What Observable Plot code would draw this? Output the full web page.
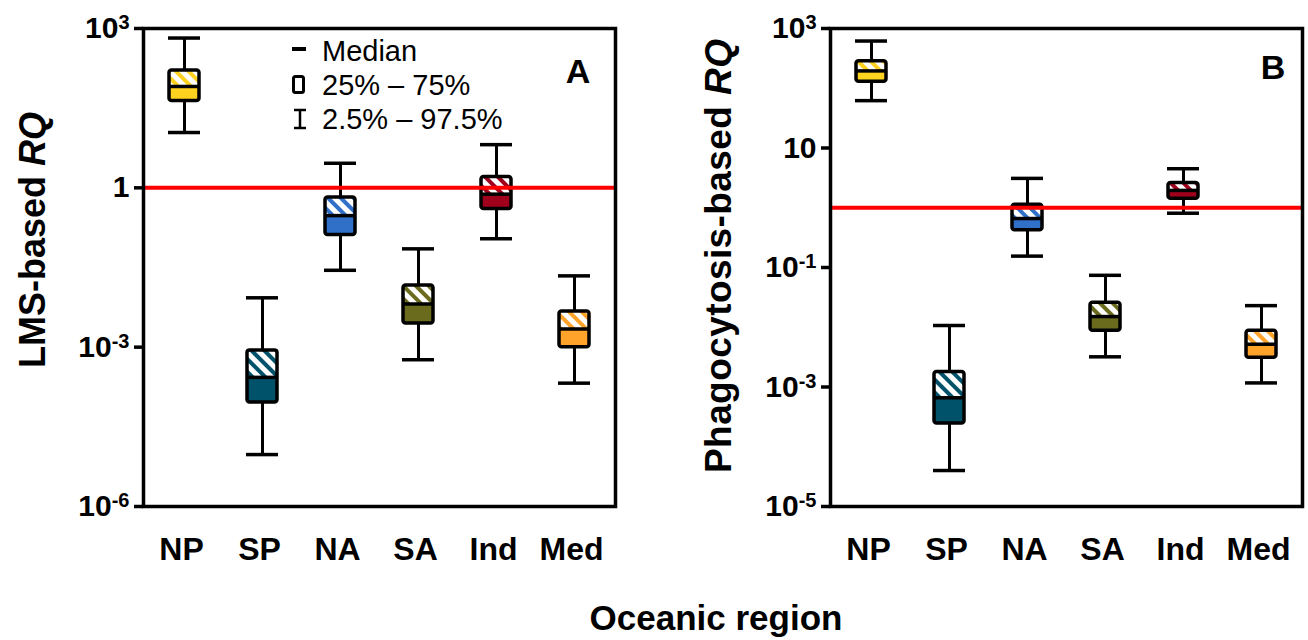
<!DOCTYPE html>
<html><head><meta charset="utf-8">
<script src="https://cdn.jsdelivr.net/npm/d3@7"></script>
<script src="https://cdn.jsdelivr.net/npm/@observablehq/plot@0.6"></script>
<style>
body{margin:0;background:#fff;}
#wrap{position:relative;width:1308px;height:640px;overflow:hidden;font-family:"Liberation Sans",Arial,sans-serif;background:#fff;}
.panel{position:absolute;top:0;}
#ann{position:absolute;left:0;top:0;}
</style></head><body><div id="wrap"></div>
<script>
// ---------- data ----------
const regions = ["NP", "SP", "NA", "SA", "Ind", "Med"];
const regionColors = ["#FFD21F", "#00516A", "#3070C8", "#6B6B1E", "#A0001C", "#FFA32A"];

// Panel A: LMS-based RQ (2.5%, 25%, median, 75%, 97.5%)
const lmsLow  = [11,   9.5e-6, 0.028, 5.8e-4, 0.11, 2.1e-4];
const lmsQ1   = [43,   9.1e-5, 0.13,  0.0028, 0.40, 0.0010];
const lmsMed  = [81,   2.7e-4, 0.30,  0.0065, 0.76, 0.0022];
const lmsQ3   = [162,  8.7e-4, 0.66,  0.0145, 1.6,  0.0047];
const lmsHigh = [661,  0.0085, 2.9,   0.071,  6.5,  0.022];
const lmsTicks = [1e-6, 1e-3, 1, 1e3];

// Panel B: Phagocytosis-based RQ
const phLow  = [62,  4.0e-5,  0.155, 0.0032, 0.81, 0.00117];
const phQ1   = [129, 2.45e-4, 0.42,  0.0087, 1.41, 0.0031];
const phMed  = [195, 6.6e-4,  0.66,  0.0151, 1.95, 0.0052];
const phQ3   = [282, 0.00178, 1.12,  0.0257, 2.6,  0.0087];
const phHigh = [617, 0.0107,  3.1,   0.074,  4.5,  0.023];
const phTicks = [1e-5, 1e-3, 1e-1, 10, 1e3];

const threshold = [1];

// ---------- helpers ----------
function table(low, q1, med, q3, high) {
  return regions.map((r, i) => ({region: r, color: regionColors[i], low: low[i], q1: q1[i], med: med[i], q3: q3[i], high: high[i]}));
}
function fmtTick(v) {
  const e = Math.round(Math.log10(v));
  if (e === 0) return "1";
  if (e === 1) return "10";
  return "10^" + e;
}

const wrap = d3.select("#wrap");

// hatch patterns
const defsSvg = wrap.append("svg").attr("width", 0).attr("height", 0).style("position", "absolute");
const defs = defsSvg.append("defs");
regions.forEach((r, i) => {
  const p = defs.append("pattern").attr("id", "hatch-" + r)
    .attr("patternUnits", "userSpaceOnUse").attr("width", 9).attr("height", 9)
    .attr("patternTransform", "rotate(-45)");
  p.append("rect").attr("width", 9).attr("height", 9).attr("fill", "white");
  p.append("rect").attr("width", 4).attr("height", 9).attr("fill", regionColors[i]);
});

function panel(data, domain, ticks, opts) {
  const W = 654, H = 580;
  const boxInset = 24, capInset = 23;
  const svg = Plot.plot({
    width: W, height: H,
    marginLeft: opts.ml, marginRight: opts.mr, marginTop: 28, marginBottom: H - opts.bottom,
    style: {fontFamily: "Liberation Sans, Arial, sans-serif", color: "black", background: "transparent", overflow: "visible"},
    x: {domain: regions, padding: 0},
    y: {type: "log", domain},
    color: {type: "identity"},
    marks: [
      Plot.ruleX(data, {x: "region", y1: "low", y2: "high", stroke: "black", strokeWidth: 3}),
      Plot.tickY(data, {x: "region", y: "low", stroke: "black", strokeWidth: 3.5, insetLeft: capInset, insetRight: capInset}),
      Plot.tickY(data, {x: "region", y: "high", stroke: "black", strokeWidth: 3.5, insetLeft: capInset, insetRight: capInset}),
      Plot.barY(data, {x: "region", y1: "q1", y2: "med", fill: "color", insetLeft: boxInset, insetRight: boxInset}),
      Plot.barY(data, {x: "region", y1: "med", y2: "q3", fill: d => "url(#hatch-" + d.region + ")", insetLeft: boxInset, insetRight: boxInset}),
      Plot.tickY(data, {x: "region", y: "med", stroke: "black", strokeWidth: 3.5, insetLeft: boxInset, insetRight: boxInset}),
      Plot.barY(data, {x: "region", y1: "q1", y2: "q3", fill: "none", stroke: "black", strokeWidth: 3.5, rx: 2.5, insetLeft: boxInset, insetRight: boxInset}),
      Plot.ruleY(threshold, {stroke: "#FF0000", strokeWidth: 4}),
      Plot.frame({stroke: "black", strokeWidth: 3.5}),
      Plot.axisY({ticks, tickFormat: fmtTick, tickSize: 9, tickPadding: 5, strokeWidth: 3.5, label: null, fontSize: 30, fontWeight: "bold"}),
      Plot.axisX({tickSize: 0, tickPadding: 31, label: null, fontSize: 32, fontWeight: "bold", dx: -3})
    ]
  });
  // superscript exponents on y tick labels
  d3.select(svg).selectAll('[aria-label="y-axis tick label"] text').each(function() {
    const t = d3.select(this);
    const s = t.text();
    if (s.includes("^")) {
      const [base, exp] = s.split("^");
      t.text("");
      t.append("tspan").text(base);
      t.append("tspan").attr("dy", "-0.45em").attr("font-size", 20).text(exp);
    }
  });
  return svg;
}

const svgA = panel(table(lmsLow, lmsQ1, lmsMed, lmsQ3, lmsHigh), [1e-6, 1e3], lmsTicks, {ml: 143, mr: 39, bottom: 506});
const svgB = panel(table(phLow, phQ1, phMed, phQ3, phHigh), [1e-5, 1e3], phTicks, {ml: 176, mr: 6, bottom: 506});
wrap.append(() => svgA).attr("class", "panel").style("left", "0px");
wrap.append(() => svgB).attr("class", "panel").style("left", "654px");

// ---------- annotations (titles, legend, panel letters) ----------
const ann = wrap.append("svg").attr("id", "ann").attr("width", 1308).attr("height", 640)
  .style("font-family", "Liberation Sans, Arial, sans-serif");

const tA = ann.append("text").attr("transform", "translate(45,240) rotate(-90)")
  .attr("text-anchor", "middle").attr("font-size", 36).attr("font-weight", "bold");
tA.append("tspan").text("LMS-based ");
tA.append("tspan").attr("font-style", "italic").text("RQ");

const tB = ann.append("text").attr("transform", "translate(731,256) rotate(-90)")
  .attr("text-anchor", "middle").attr("font-size", 37).attr("font-weight", "bold")
  .attr("textLength", 434).attr("lengthAdjust", "spacing");
tB.append("tspan").text("Phagocytosis-based ");
tB.append("tspan").attr("font-style", "italic").text("RQ");

ann.append("text").attr("x", 716).attr("y", 630).attr("text-anchor", "middle")
  .attr("font-size", 35).attr("font-weight", "bold").text("Oceanic region");

ann.append("text").attr("x", 578).attr("y", 83).attr("text-anchor", "middle")
  .attr("font-size", 34).attr("font-weight", "bold").text("A");
ann.append("text").attr("x", 1273).attr("y", 79).attr("text-anchor", "middle")
  .attr("font-size", 34).attr("font-weight", "bold").text("B");

// legend
const lg = ann.append("g");
lg.append("line").attr("x1", 292).attr("x2", 306).attr("y1", 49).attr("y2", 49).attr("stroke", "black").attr("stroke-width", 4);
lg.append("rect").attr("x", 293.5).attr("y", 76.5).attr("width", 10).attr("height", 16).attr("rx", 2)
  .attr("fill", "none").attr("stroke", "black").attr("stroke-width", 3);
lg.append("line").attr("x1", 300).attr("x2", 300).attr("y1", 109).attr("y2", 129).attr("stroke", "black").attr("stroke-width", 2.5);
lg.append("line").attr("x1", 294).attr("x2", 306).attr("y1", 110).attr("y2", 110).attr("stroke", "black").attr("stroke-width", 2.5);
lg.append("line").attr("x1", 294).attr("x2", 306).attr("y1", 128).attr("y2", 128).attr("stroke", "black").attr("stroke-width", 2.5);
const legendLabels = ["Median", "25% \u2013 75%", "2.5% \u2013 97.5%"];
const legendY = [61, 95, 129];
legendLabels.forEach((s, i) => {
  lg.append("text").attr("x", 322).attr("y", legendY[i]).attr("font-size", 29).text(s);
});
</script></body></html>
